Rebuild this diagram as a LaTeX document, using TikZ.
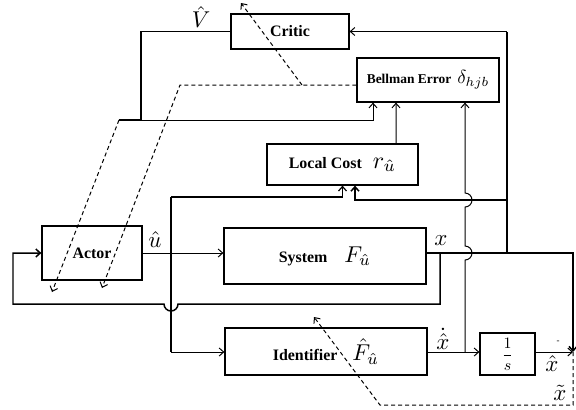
\documentclass[tikz,border=0pt]{standalone}
\usepackage{graphicx}
\usepackage{fontspec}
\setmainfont{Liberation Serif}
\usetikzlibrary{calc,arrows.meta}
\newcommand{\bigmath}[2][2.3]{{\fontsize{10}{12}\selectfont\scalebox{#1}{$#2$}}}

\begin{document}
\begin{tikzpicture}
[x=1bp,y=-1bp,>={Straight Barb[length=4.5bp,width=8bp]},
  blockdecorate/.style={shape=rectangle,draw,line width=1.2pt,inner sep=0pt,font=\fontsize{16}{19}\selectfont\bfseries},%
  linedecorate/.style={-,line width=1.5pt},%
  arrowdecorate/.style={->,line width=1pt},%
  dashdecorate/.style={->,dash pattern=on 4bp off 3bp,line width=1pt},%
  labeldecorate/.style={inner sep=0pt}]
\useasboundingbox (0,0) rectangle (576,409);
%% blocks
\foreach \nodename/\x/\y/\w/\h/\txt in {
  critic/290/31.5/118/35/{Critic},
  bellman/428/80/142/44/{{\fontsize{13.5}{16}\selectfont Bellman Error}\hspace{6bp}\bigmath[1.9]{\delta_{hjb}}},
  localcost/342.5/164.5/151/41/{Local Cost\hspace{11bp}\bigmath[2.4]{r_{\hat u}}},
  actor/92/253/100/54/{Actor},
  system/325/256/202/56/{System\hspace{17bp}\bigmath{F_{\hat u}}},
  identifier/326/351.5/202/47/{Identifier\hspace{15bp}\bigmath{\hat F_{\hat u}}},
  integ/507.5/354/55/42/{\bigmath[1.6]{\displaystyle\frac{1}{s}}}} {
  \node (\nodename) at (\x,\y) [blockdecorate,minimum width=\w bp,minimum height=\h bp] {\txt};
}
%% labels
\foreach \nodename/\x/\y/\txt in {
  vlabel/201/17/{\bigmath{\hat V}}, ulabel/155/240/{\bigmath{\hat u}}, xlabel/441/241/{\bigmath{x}},
  xdotlabel/443/339/{\bigmath{\dot{\hat x}}}, xhatlabel/552/364/{\bigmath{\hat x}},
  xtildelabel/560/393/{\bigmath{\tilde x}}} {
  \node (\nodename) at (\x,\y) [labeldecorate] {\txt};
}
\node (minuslabel) at (558,342) [inner sep=0pt,font=\small] {-};
%% junctions
\coordinate (ub) at (171,253);
\coordinate (utop) at (171,197);
\coordinate (ubot) at (171,352);
\coordinate (xa) at (440,253);
\coordinate (xl) at (507,200);
\coordinate (xc) at (507,253);
\coordinate (xsum) at (573,352);
\coordinate (dx) at (465,352);
\coordinate (vjoint) at (141,120);
\coordinate (vleft) at (119,120);
\coordinate (errtip) at (314,317);
%% connectors
\draw[arrowdecorate] (actor.east) -- (system.west |- actor.east);
\draw[linedecorate] (utop) -- (ubot);
\draw[arrowdecorate,line width=1.2pt] (utop) -| (localcost.south);
\draw[arrowdecorate] (ubot) -- (identifier.west |- ubot);
\draw[linedecorate,->] (ub -| system.east) -| (xsum);
\draw[linedecorate] (xc) -- (xc |- critic.east);
\draw[arrowdecorate] (xc |- critic.east) -- (critic.east);
\draw[linedecorate,->] (xl) -| ($(localcost.south)+(12.5,0)$);
\draw[linedecorate,->] (xa) |- (178,304) arc[start angle=0,end angle=180,radius=7] -- (13,304) |- (actor.west);
\draw[arrowdecorate] (identifier.east |- ubot) -- (integ.west |- ubot);
\draw[arrowdecorate] (dx) -- (465,260) arc[start angle=90,end angle=-90,radius=7]
  -- (465,207) arc[start angle=90,end angle=-90,radius=7] -- (bellman.south -| dx);
\draw[arrowdecorate] (integ.east |- ubot) -- (xsum);
\draw[linedecorate] (critic.west) -| (vjoint);
\draw[linedecorate] (vleft) -- (vjoint);
\draw[arrowdecorate] (vjoint) -| ($(bellman.south)+(-55,0)$);
\draw[arrowdecorate] ($(localcost.north)+(53.5,0)$) -- ($(bellman.south)+(-32,0)$);
%% dashed error paths
\draw[dashdecorate] (xsum) -- (573,405) -- (380,405) -- (errtip);
\draw[dashdecorate] ($(bellman.west)+(0,5)$) -- (180,85) -- (102,288);
\draw[dashdecorate] (302,85) -- (241,3);
\draw[dashdecorate] (vleft) -- (52,292);
\end{tikzpicture}
\end{document}
